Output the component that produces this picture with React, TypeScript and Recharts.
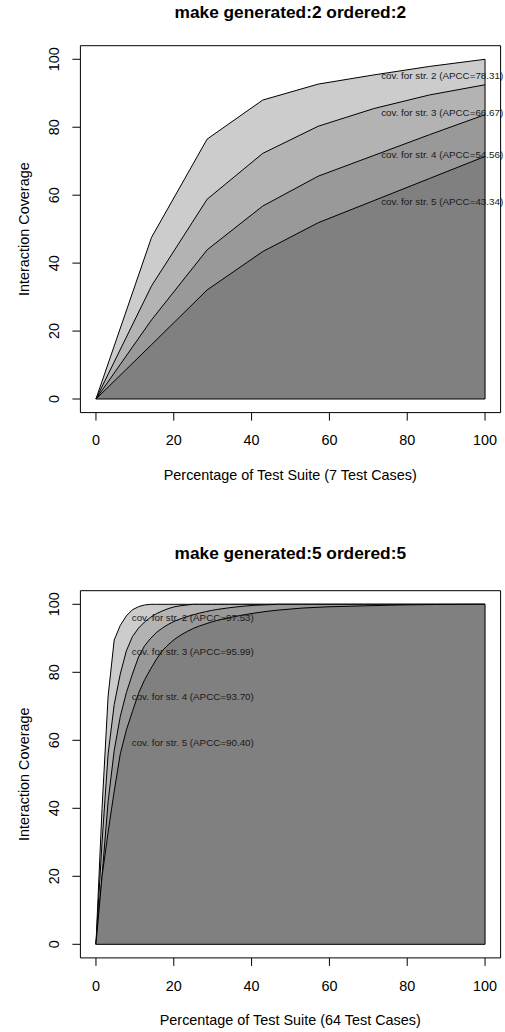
import React from "react";
import {
  Area,
  ComposedChart,
  ReferenceArea,
  ReferenceLine,
  Scatter,
  XAxis,
  YAxis,
} from "recharts";

// panel 1: 7 test cases
const topPct = [0, 14.29, 28.57, 42.86, 57.14, 71.43, 85.71, 100];
const topStr2 = [0, 47.6, 76.5, 88.0, 92.7, 95.4, 97.9, 100];
const topStr3 = [0, 33.3, 58.8, 72.3, 80.3, 85.5, 89.5, 92.5];
const topStr4 = [0, 23.3, 43.9, 56.8, 65.6, 71.7, 77.8, 83.7];
const topStr5 = [0, 16.0, 32.1, 43.4, 51.9, 58.4, 64.9, 71.4];
const topApcc = ["78.31", "66.67", "54.56", "43.34"];

// panel 2: 64 test cases (test case count where the curve was read)
const botTests = [
  0, 1, 2, 3, 4, 5, 6, 7, 8, 9, 10, 11, 12, 13, 14, 15, 16, 17, 18, 19, 20,
  22, 24, 26, 28, 30, 34, 38, 44, 50, 56, 64,
];
const botStr2 = [
  0, 40, 73, 89.5, 93.8, 96.6, 98.4, 99.3, 99.8, 100, 100, 100, 100, 100, 100, 100, 100, 100, 100, 100, 100,
  100, 100, 100, 100, 100, 100, 100, 100, 100, 100, 100,
];
const botStr3 = [
  0, 30, 56, 70.5, 79.5, 86.3, 90.5, 93, 94.8, 96.2, 97.3, 98.1, 98.8, 99.3, 99.6, 99.8, 100, 100, 100, 100, 100,
  100, 100, 100, 100, 100, 100, 100, 100, 100, 100, 100,
];
const botStr4 = [
  0, 20, 42, 57, 67, 74, 79.5, 84.5, 87.8, 90, 91.8, 93.1, 94.2, 95.1, 95.8, 96.4, 96.9, 97.4, 97.8, 98.2, 98.5,
  99.0, 99.4, 99.7, 99.85, 100, 100, 100, 100, 100, 100, 100,
];
const botStr5 = [
  0, 20, 33, 45, 56, 63, 68.5, 73.8, 77.8, 81, 84, 86.5, 88.3, 89.8, 91, 92, 92.9, 93.6, 94.2, 94.8, 95.3,
  96.1, 96.8, 97.4, 97.9, 98.3, 98.9, 99.25, 99.55, 99.8, 99.95, 100,
];
const botApcc = ["97.53", "95.99", "93.70", "90.40"];

const strengths = [2, 3, 4, 5];
const fills = ["#cccccc", "#b3b3b3", "#999999", "#808080"];
const ticks = [0, 20, 40, 60, 80, 100];

const FONT = "'Liberation Sans', Arial, Helvetica, sans-serif";

type Panel = {
  title: string;
  xlab: string;
  rows: { x: number; s2: number; s3: number; s4: number; s5: number }[];
  labels: { x: number; y: number; text: string }[];
  top: number;
  marginTop: number;
  marginBottom: number;
  titleY: number;
  xlabY: number;
};

const makeRows = (xs: number[], a: number[], b: number[], c: number[], d: number[]) =>
  xs.map((x, i) => ({ x, s2: a[i], s3: b[i], s4: c[i], s5: d[i] }));

const makeLabels = (apcc: string[], x: number, ys: number[]) =>
  apcc.map((v, i) => ({ x, y: ys[i], text: `cov. for str. ${strengths[i]} (APCC=${v})` }));

const panels: Panel[] = [
  {
    title: "make generated:2 ordered:2",
    xlab: "Percentage of Test Suite (7 Test Cases)",
    rows: makeRows(topPct, topStr2, topStr3, topStr4, topStr5),
    labels: makeLabels(topApcc, 73.3, [95.1, 84.3, 72.1, 58.0]),
    top: 0,
    marginTop: 45.7,
    marginBottom: 73.4,
    titleY: 18,
    xlabY: 480.2,
  },
  {
    title: "make generated:5 ordered:5",
    xlab: "Percentage of Test Suite (64 Test Cases)",
    rows: makeRows(botTests.map((t) => (t * 100) / 64), botStr2, botStr3, botStr4, botStr5),
    labels: makeLabels(botApcc, 9.2, [96.1, 86.1, 73.0, 59.4]),
    top: 516,
    marginTop: 74.7,
    marginBottom: 44.1,
    titleY: 43,
    xlabY: 509.2,
  },
];

const XTick = (p: any) => (
  <text x={p.x} y={p.y + 24.6} textAnchor="middle" fontSize={14.4} fontFamily={FONT} fill="#000">
    {p.payload.value}
  </text>
);

const YTick = (p: any) => {
  const bx = p.x - 13.4;
  return (
    <text
      x={bx}
      y={p.y}
      transform={`rotate(-90, ${bx}, ${p.y})`}
      textAnchor="middle"
      fontSize={14.4}
      fontFamily={FONT}
      fill="#000"
    >
      {p.payload.value}
    </text>
  );
};

const LabelShape = (p: any) => (
  <text
    x={p.cx}
    y={p.cy}
    dominantBaseline="central"
    fontSize={9.8}
    fontFamily={FONT}
    fill="#1a1a1a"
  >
    {p.payload.text}
  </text>
);

function CoveragePanel({ panel }: { panel: Panel }) {
  const W = 505;
  const H = 516;
  const plotTop = panel.marginTop;
  const plotBottom = H - panel.marginBottom - 30;
  const midY = (plotTop + plotBottom) / 2;
  const last = panel.rows[panel.rows.length - 1];
  return (
    <div style={{ position: "absolute", left: 0, top: panel.top, width: W, height: H }}>
      <ComposedChart
        width={W}
        height={H}
        data={panel.rows}
        margin={{ top: panel.marginTop, right: 4.4, bottom: panel.marginBottom, left: 0 }}
      >
        <XAxis
          type="number"
          dataKey="x"
          domain={[-4, 104]}
          ticks={ticks}
          interval={0}
          axisLine={false}
          tickLine={{ stroke: "#000" }}
          tickSize={8}
          tickMargin={0}
          height={30}
          tick={XTick}
        />
        <YAxis
          type="number"
          domain={[-4, 104]}
          ticks={ticks}
          interval={0}
          axisLine={false}
          tickLine={{ stroke: "#000" }}
          tickSize={8}
          tickMargin={0}
          width={80.4}
          tick={YTick}
        />
        {(["s2", "s3", "s4", "s5"] as const).map((k, i) => (
          <Area
            key={k}
            type="linear"
            dataKey={k}
            baseValue={0}
            fill={fills[i]}
            fillOpacity={1}
            stroke="#000"
            strokeWidth={1}
            dot={false}
            activeDot={false}
            isAnimationActive={false}
          />
        ))}
        <ReferenceLine
          segment={[
            { x: 100, y: 0 },
            { x: 100, y: last.s2 },
          ]}
          stroke="#000"
          strokeWidth={1}
        />
        <ReferenceLine
          segment={[
            { x: 0, y: 0 },
            { x: 100, y: 0 },
          ]}
          stroke="#000"
          strokeWidth={1}
        />
        <ReferenceArea x1={-4} x2={104} y1={-4} y2={104} fill="none" stroke="#000" strokeWidth={1} />
        <Scatter data={panel.labels} dataKey="y" shape={LabelShape} isAnimationActive={false} />
      </ComposedChart>
      <svg
        width={W}
        height={H}
        style={{ position: "absolute", left: 0, top: 0, pointerEvents: "none" }}
      >
        <text
          x={290.3}
          y={panel.titleY}
          textAnchor="middle"
          fontSize={17.3}
          fontWeight="bold"
          fontFamily={FONT}
          fill="#000"
        >
          {panel.title}
        </text>
        <text x={290.3} y={panel.xlabY} textAnchor="middle" fontSize={14.4} fontFamily={FONT} fill="#000">
          {panel.xlab}
        </text>
        <text
          x={29.2}
          y={midY}
          transform={`rotate(-90, 29.2, ${midY})`}
          textAnchor="middle"
          fontSize={14.4}
          fontFamily={FONT}
          fill="#000"
        >
          Interaction Coverage
        </text>
      </svg>
    </div>
  );
}

export default function App() {
  return (
    <div style={{ position: "absolute", left: 0, top: 0, width: 505, height: 1032, background: "#fff" }}>
      {panels.map((p) => (
        <CoveragePanel key={p.title} panel={p} />
      ))}
    </div>
  );
}
